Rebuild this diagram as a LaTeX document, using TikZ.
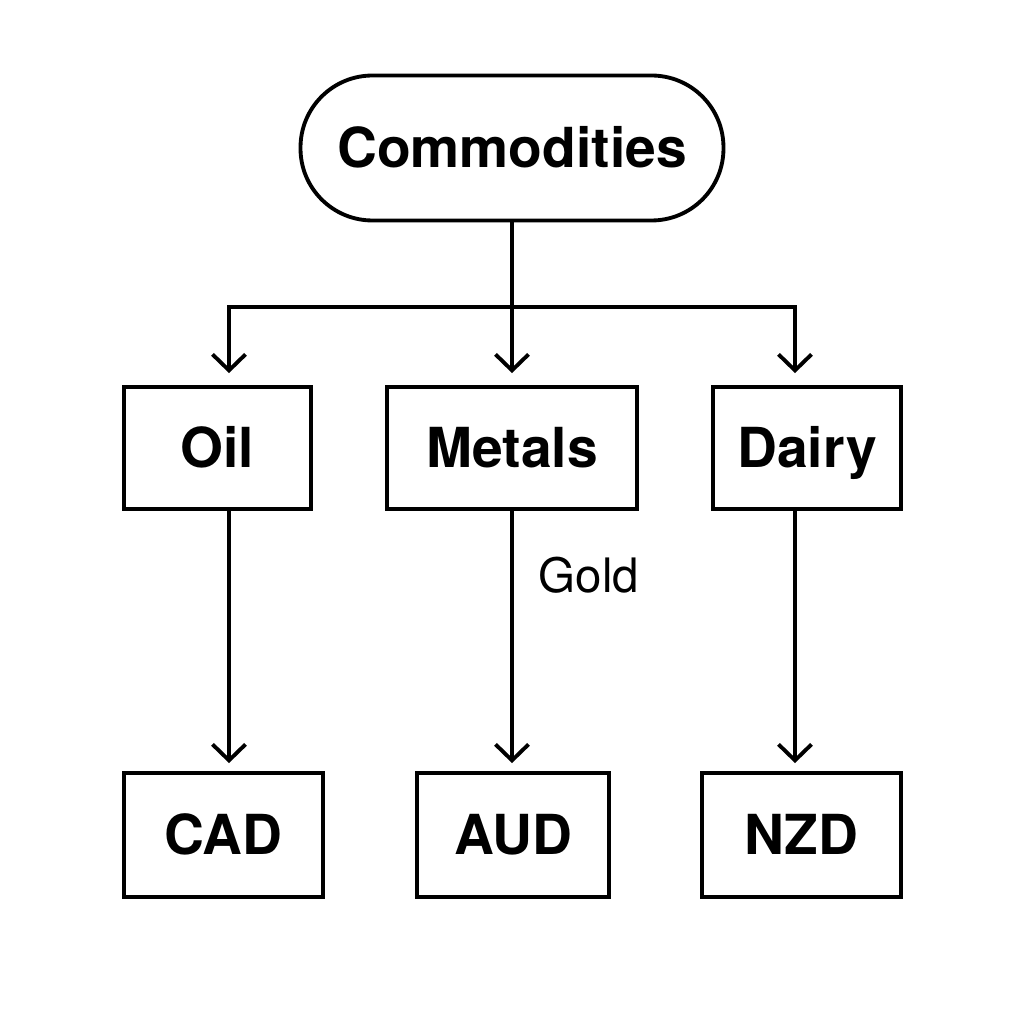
\documentclass[tikz,border=0pt]{standalone}
\usepackage{fontspec}
\setmainfont{TeX Gyre Heros}
\usetikzlibrary{arrows.meta}
\tikzset{
    box/.style={draw=black, line width=1.1pt, minimum height=1.22cm, inner sep=0pt, text height=11.3pt, text depth=0pt, font=\fontsize{15.7}{19}\selectfont\bfseries},
    pill/.style={box, rounded corners=0.72cm, minimum height=1.45cm, minimum width=4.23cm},
    arr/.style={line width=1.1pt, -{Straight Barb[length=1.6mm, width=3.3mm, line width=1.1pt]}},
}
\begin{document}
\begin{tikzpicture}
    \useasboundingbox (0,0) rectangle (10.24,10.24);
    \node[pill] (com) at (5.12,8.76) {Commodities};
    \node[box, minimum width=1.87cm] (oil) at (2.175,5.76) {Oil};
    \node[box, minimum width=2.50cm] (met) at (5.12,5.76) {Metals};
    \node[box, minimum width=1.88cm] (dai) at (8.07,5.76) {Dairy};
    \node[box, minimum width=1.99cm, minimum height=1.24cm] (cad) at (2.235,1.89) {CAD};
    \node[box, minimum width=1.92cm, minimum height=1.24cm] (aud) at (5.13,1.89) {AUD};
    \node[box, minimum width=1.99cm, minimum height=1.24cm] (nzd) at (8.015,1.89) {NZD};
    \coordinate (split) at (5.12,7.17);
    \draw[line width=1.1pt] (com.south) -- (split);
    \draw[arr, shorten >=1.2mm] (split) -| ([xshift=1.15mm]oil.north);
    \draw[arr, shorten >=1.2mm] (split) -- (met.north);
    \draw[arr, shorten >=1.2mm] (split) -| ([xshift=-1.2mm]dai.north);
    \draw[arr, shorten >=0.8mm] ([xshift=1.15mm]oil.south) -- ([xshift=1.15mm]oil.south |- cad.north);
    \draw[arr, shorten >=0.8mm] (met.south) -- (met.south |- aud.north);
    \draw[arr, shorten >=0.8mm] ([xshift=-1.2mm]dai.south) -- ([xshift=-1.2mm]dai.south |- nzd.north);
    \node[font=\fontsize{13.5}{16}\selectfont] (gold) at (5.89,4.49) {Gold};
\end{tikzpicture}
\end{document}
